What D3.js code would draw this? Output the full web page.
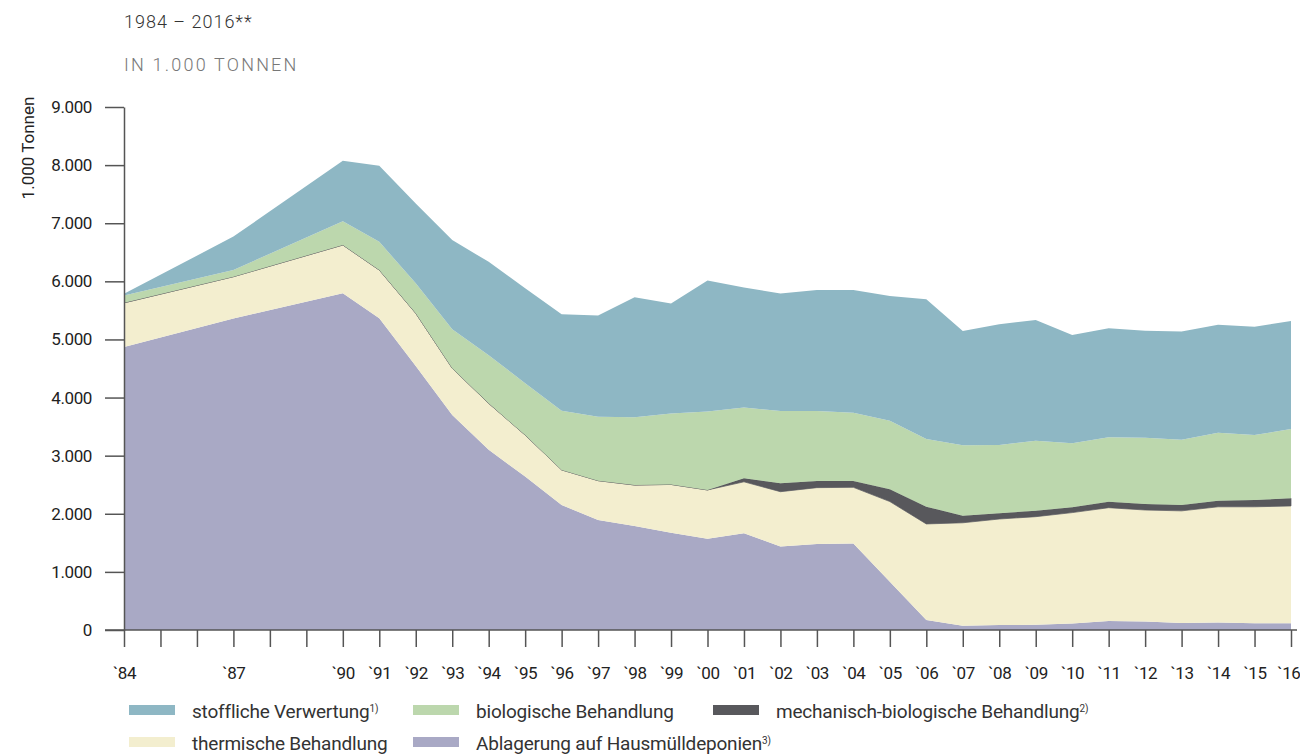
<!DOCTYPE html>
<meta charset="utf-8">
<style>
body { margin: 0; background: #fff; }
svg { display: block; }
.cond { font-family: Roboto, "Liberation Sans", Arial, sans-serif; }
.axis path, .axis line { stroke: #555; stroke-width: 1.5px; }
.axis text { fill: #222; font-size: 17px; letter-spacing: -0.4px; }
.head { font-family: Roboto, "Liberation Sans", Arial, sans-serif; font-size: 18px; font-weight: 300; }
</style>
<body>
<svg width="1300" height="756"></svg>
<script src="https://d3js.org/d3.v7.min.js"></script>
<script>
// Jahre mit Daten (1985/86 und 1988/89 fehlen)
var years = [1984, 1987, 1990, 1991, 1992, 1993, 1994, 1995, 1996, 1997, 1998, 1999, 2000,
             2001, 2002, 2003, 2004, 2005, 2006, 2007, 2008, 2009, 2010, 2011, 2012, 2013, 2014, 2015, 2016];

// Werte in 1.000 Tonnen
var deponie   = [4870, 5360, 5795, 5365, 4545, 3700, 3100, 2640, 2150, 1895, 1790, 1675, 1570,
                 1665, 1435, 1480, 1490, 830, 170, 75, 85, 90, 110, 155, 145, 120, 130, 115, 115];
var thermisch = [760, 720, 830, 830, 905, 805, 800, 715, 605, 675, 705, 830, 840,
                 885, 945, 970, 965, 1380, 1655, 1770, 1825, 1860, 1910, 1950, 1920, 1930, 1990, 2005, 2020];
var mba       = [0, 0, 0, 0, 0, 0, 0, 0, 0, 0, 0, 0, 0,
                 60, 144, 115, 110, 213, 298, 120, 98, 103, 92, 103, 103, 103, 103, 115, 132];
var biologisch = [125, 115, 410, 485, 515, 670, 830, 890, 1020, 1100, 1165, 1220, 1350,
                  1220, 1245, 1205, 1175, 1180, 1165, 1215, 1175, 1205, 1100, 1110, 1140, 1120, 1170, 1120, 1190];
var stofflich = [30, 575, 1040, 1310, 1375, 1535, 1605, 1635, 1660, 1740, 2065, 1895, 2255,
                 2065, 2020, 2080, 2110, 2145, 2405, 1965, 2080, 2075, 1865, 1875, 1840, 1865, 1860, 1865, 1860];

var tickYears = d3.range(1984, 2017);
var labelYears = [1984, 1987].concat(d3.range(1990, 2017));
var yTicks = d3.range(0, 9001, 1000);

var keys = ["deponie", "thermisch", "mba", "biologisch", "stofflich"];
var colors = {deponie: "#a9a9c5", thermisch: "#f3eecf", mba: "#58585c", biologisch: "#bcd7ad", stofflich: "#8eb7c4"};
var legend = [
  {key: "stofflich", text: "stoffliche Verwertung", sup: "1)", x: 129, y: 705},
  {key: "biologisch", text: "biologische Behandlung", sup: "", x: 413, y: 705},
  {key: "mba", text: "mechanisch-biologische Behandlung", sup: "2)", x: 713, y: 705},
  {key: "thermisch", text: "thermische Behandlung", sup: "", x: 129, y: 737},
  {key: "deponie", text: "Ablagerung auf Hausmülldeponien", sup: "3)", x: 413, y: 737}
];

var table = years.map(function(yr, i) {
  return {year: yr, deponie: deponie[i], thermisch: thermisch[i], mba: mba[i],
          biologisch: biologisch[i], stofflich: stofflich[i]};
});

var de = d3.formatLocale({decimal: ",", thousands: ".", grouping: [3], currency: ["", " €"]});

var svg = d3.select("svg"),
    margin = {top: 107, right: 9, bottom: 126, left: 124},
    width = +svg.attr("width") - margin.left - margin.right,
    height = +svg.attr("height") - margin.top - margin.bottom,
    g = svg.append("g").attr("transform", "translate(" + margin.left + "," + margin.top + ")");

var x = d3.scaleLinear().domain([1984, 2016]).range([0, width]);
var y = d3.scaleLinear().domain([0, 9000]).range([height, 0]);

var stack = d3.stack().keys(keys);
var series = stack(table);

var area = d3.area()
    .x(function(d) { return x(d.data.year); })
    .y0(function(d) { return y(d[0]); })
    .y1(function(d) { return y(d[1]); });

g.selectAll(".layer")
  .data(series)
  .enter().append("path")
    .attr("class", "layer")
    .attr("fill", function(d) { return colors[d.key]; })
    .attr("stroke", function(d) { return d.key === "mba" ? "#58585c" : "none"; })
    .attr("stroke-width", 0.7)
    .attr("d", area);

// x-Achse
var xAxis = g.append("g")
    .attr("class", "axis cond")
    .attr("transform", "translate(0," + height + ")")
    .call(d3.axisBottom(x)
        .tickValues(tickYears)
        .tickSize(17)
        .tickSizeOuter(0)
        .tickPadding(20)
        .tickFormat(function(d) { return labelYears.indexOf(d) >= 0 ? "`" + String(d).slice(2) : ""; }));
xAxis.select(".domain").remove();
xAxis.append("line")
    .attr("x1", -19).attr("x2", width + 6)
    .attr("y1", 0).attr("y2", 0);
// letzte Beschriftung am Rand halten
xAxis.selectAll(".tick text")
    .filter(function(d) { return d === 2016; })
    .attr("text-anchor", "end")
    .attr("x", 9);

// y-Achse
var yAxis = g.append("g")
    .attr("class", "axis cond")
    .call(d3.axisLeft(y)
        .tickValues(yTicks)
        .tickSize(19)
        .tickSizeOuter(0)
        .tickPadding(13)
        .tickFormat(de.format(",")));

svg.append("text")
    .attr("class", "cond")
    .attr("transform", "translate(34,148) rotate(-90)")
    .attr("text-anchor", "middle")
    .style("font-size", "17px")
    .attr("fill", "#222")
    .text("1.000 Tonnen");

// Überschrift
svg.append("text")
    .attr("class", "head")
    .attr("x", 124).attr("y", 28)
    .attr("fill", "#333")
    .style("letter-spacing", "1px")
    .text("1984 – 2016**");
svg.append("text")
    .attr("class", "head")
    .attr("x", 124).attr("y", 71)
    .attr("fill", "#777")
    .style("letter-spacing", "2.2px")
    .text("IN 1.000 TONNEN");

// Legende
var leg = svg.selectAll(".leg")
  .data(legend)
  .enter().append("g")
    .attr("class", "leg cond")
    .attr("transform", function(d) { return "translate(" + d.x + "," + d.y + ")"; });
leg.append("rect")
    .attr("width", 46).attr("height", 10)
    .attr("fill", function(d) { return colors[d.key]; });
var lt = leg.append("text")
    .attr("x", 63).attr("y", 13)
    .attr("fill", "#333")
    .style("font-size", "19px")
    .style("letter-spacing", "-0.2px");
lt.append("tspan").text(function(d) { return d.text; });
lt.append("tspan")
    .attr("dy", -6)
    .style("font-size", "10px")
    .text(function(d) { return d.sup; });
</script>
</body>
